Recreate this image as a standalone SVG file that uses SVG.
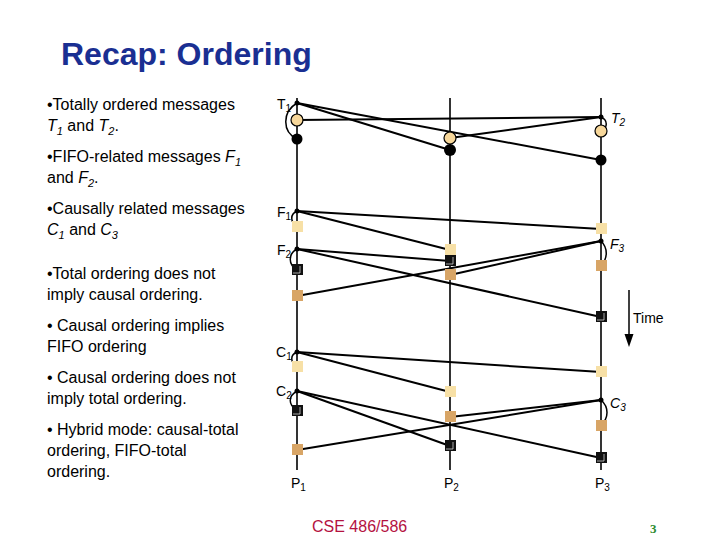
<svg xmlns="http://www.w3.org/2000/svg" width="720" height="540" viewBox="0 0 720 540">
<style>
.t{font-family:"Liberation Sans",Arial,sans-serif;font-size:16px;fill:#000}
.lab{font-family:"Liberation Sans",Arial,sans-serif;font-size:14px;fill:#000}
.it{font-style:italic}
.proc{stroke:#000;stroke-width:1.6;fill:none}
.msg{stroke:#000;stroke-width:2;fill:none}
.arc{stroke:#000;stroke-width:1.5;fill:none}
.lt{fill:#f7e0a6}
.tn{fill:#d8a566}
.bk{fill:#111}
.inner{fill:none;stroke:#fff;stroke-width:0.8;opacity:0.8}
</style>
<rect width="720" height="540" fill="#fff"/>
<g id="title"><text x="61" y="65" font-family="Liberation Sans,Arial,sans-serif" font-size="32" font-weight="bold" fill="#1a2f92">Recap: Ordering</text></g>
<g id="bullets">
<text class="t" x="47" y="110">•Totally ordered messages</text>
<text class="t" x="47" y="131"><tspan class="it">T</tspan><tspan class="it" font-size="11" dy="4">1</tspan><tspan dy="-4"> and </tspan><tspan class="it">T</tspan><tspan class="it" font-size="11" dy="4">2</tspan><tspan dy="-4">.</tspan></text>
<text class="t" x="47" y="162">•FIFO-related messages <tspan class="it">F</tspan><tspan class="it" font-size="11" dy="4">1</tspan></text>
<text class="t" x="47" y="183">and <tspan class="it">F</tspan><tspan class="it" font-size="11" dy="4">2</tspan><tspan dy="-4">.</tspan></text>
<text class="t" x="47" y="214">•Causally related messages</text>
<text class="t" x="47" y="235"><tspan class="it">C</tspan><tspan class="it" font-size="11" dy="4">1</tspan><tspan dy="-4"> and </tspan><tspan class="it">C</tspan><tspan class="it" font-size="11" dy="4">3</tspan></text>
<text class="t" x="47" y="279">•Total ordering does not</text>
<text class="t" x="47" y="300">imply causal ordering.</text>
<text class="t" x="47" y="331">• Causal ordering implies</text>
<text class="t" x="47" y="352">FIFO ordering</text>
<text class="t" x="47" y="383">• Causal ordering does not</text>
<text class="t" x="47" y="404">imply total ordering.</text>
<text class="t" x="47" y="435">• Hybrid mode: causal-total</text>
<text class="t" x="47" y="456">ordering, FIFO-total</text>
<text class="t" x="47" y="477">ordering.</text>
</g>
<g id="processes">
<line class="proc" x1="297" y1="98" x2="297" y2="470"/>
<line class="proc" x1="450" y1="98" x2="450" y2="470"/>
<line class="proc" x1="601" y1="98" x2="601" y2="470"/>
<text class="lab" x="291" y="488">P<tspan font-size="10" dy="3">1</tspan></text>
<text class="lab" x="444" y="488">P<tspan font-size="10" dy="3">2</tspan></text>
<text class="lab" x="595" y="488">P<tspan font-size="10" dy="3">3</tspan></text>
</g>
<g id="connectors">
<line class="msg" x1="297" y1="103" x2="450" y2="150"/>
<line class="msg" x1="297" y1="103" x2="601" y2="160"/>
<line class="msg" x1="601" y1="117" x2="297" y2="120"/>
<line class="msg" x1="601" y1="117" x2="450" y2="138"/>
<path class="arc" d="M297,103 C282,112 282,132 297,139"/>
<path class="arc" d="M601,117 C608,120 608,128 601,131"/>
<line class="msg" x1="297" y1="211" x2="601" y2="229"/>
<line class="msg" x1="297" y1="211" x2="450" y2="250"/>
<line class="msg" x1="297" y1="249" x2="450" y2="261"/>
<line class="msg" x1="297" y1="249" x2="601" y2="317"/>
<line class="msg" x1="601" y1="241" x2="450" y2="275"/>
<line class="msg" x1="601" y1="241" x2="297" y2="296"/>
<path class="arc" d="M297,211 C290,214 290,222 297,226"/>
<path class="arc" d="M297,249 C288,254 288,264 297,270"/>
<path class="arc" d="M601,241 C608,248 608,258 601,266"/>
<line class="msg" x1="297" y1="352" x2="601" y2="372"/>
<line class="msg" x1="297" y1="352" x2="450" y2="392"/>
<line class="msg" x1="297" y1="391" x2="450" y2="446"/>
<line class="msg" x1="297" y1="391" x2="601" y2="458"/>
<line class="msg" x1="601" y1="400" x2="450" y2="417"/>
<line class="msg" x1="601" y1="400" x2="297" y2="450"/>
<path class="arc" d="M297,352 C290,355 290,362 297,366"/>
<path class="arc" d="M297,391 C288,396 288,405 297,410"/>
<path class="arc" d="M601,400 C609,407 609,418 601,425"/>
<line x1="629" y1="290" x2="629" y2="336" stroke="#000" stroke-width="1.5"/>
<polygon points="624.5,334 633.5,334 629,347" fill="#000"/>
</g>
<g id="sends">
<circle cx="297" cy="103" r="2.5"/><circle cx="601" cy="117" r="2.5"/>
<circle cx="297" cy="211" r="2.5"/><circle cx="297" cy="249" r="2.5"/><circle cx="601" cy="241" r="2.5"/>
<circle cx="297" cy="352" r="2.5"/><circle cx="297" cy="391" r="2.5"/><circle cx="601" cy="400" r="2.5"/>
</g>
<g id="send-labels">
<text class="lab" x="277" y="109">T<tspan font-size="10" dy="3">1</tspan></text>
<text class="lab it" x="611" y="123">T<tspan font-size="10" dy="3">2</tspan></text>
<text class="lab" x="277" y="217">F<tspan font-size="10" dy="3">1</tspan></text>
<text class="lab" x="277" y="255">F<tspan font-size="10" dy="3">2</tspan></text>
<text class="lab it" x="610" y="249">F<tspan font-size="10" dy="3">3</tspan></text>
<text class="lab" x="276" y="357">C<tspan font-size="10" dy="3">1</tspan></text>
<text class="lab" x="276" y="396">C<tspan font-size="10" dy="3">2</tspan></text>
<text class="lab it" x="610" y="408">C<tspan font-size="10" dy="3">3</tspan></text>
<text class="lab" x="633" y="323">Time</text>
</g>
<g id="deliveries-T">
<circle cx="297" cy="120" r="6" fill="#f7d79a" stroke="#000" stroke-width="1.2"/>
<circle cx="297" cy="139" r="5.5" fill="#000"/>
<circle cx="450" cy="138" r="6" fill="#f7d79a" stroke="#000" stroke-width="1.2"/>
<circle cx="450" cy="150" r="6" fill="#000"/>
<circle cx="601" cy="131" r="6" fill="#f7d79a" stroke="#000" stroke-width="1.2"/>
<circle cx="601" cy="160" r="5.5" fill="#000"/>
</g>
<g id="deliveries-F">
<rect class="lt" x="292" y="221" width="11" height="11"/>
<rect class="bk" x="292" y="264" width="11" height="11"/><path class="inner" d="M300,266 V273 H293"/>
<rect class="tn" x="292" y="290" width="11" height="11"/>
<rect class="lt" x="445" y="244" width="11" height="11"/>
<rect class="bk" x="445" y="255" width="11" height="11"/><path class="inner" d="M453,257 V264 H446"/>
<rect class="tn" x="445" y="269" width="11" height="11"/>
<rect class="lt" x="596" y="223" width="11" height="11"/>
<rect class="tn" x="596" y="260" width="11" height="11"/>
<rect class="bk" x="596" y="311" width="11" height="11"/><path class="inner" d="M604,313 V320 H597"/>
</g>
<g id="deliveries-C">
<rect class="lt" x="292" y="361" width="11" height="11"/>
<rect class="bk" x="292" y="405" width="11" height="11"/><path class="inner" d="M300,407 V414 H293"/>
<rect class="tn" x="292" y="444" width="11" height="11"/>
<rect class="lt" x="445" y="386" width="11" height="11"/>
<rect class="tn" x="445" y="411" width="11" height="11"/>
<rect class="bk" x="445" y="440" width="11" height="11"/><path class="inner" d="M453,442 V449 H446"/>
<rect class="lt" x="596" y="366" width="11" height="11"/>
<rect class="tn" x="596" y="420" width="11" height="11"/>
<rect class="bk" x="596" y="452" width="11" height="11"/><path class="inner" d="M604,454 V461 H597"/>
</g>
<g id="footer">
<text x="312" y="532" font-family="Liberation Sans,Arial,sans-serif" font-size="16" fill="#b4123f">CSE 486/586</text>
<text x="650" y="533" font-family="Liberation Serif,serif" font-size="13" font-weight="bold" fill="#2e8b2e">3</text>
</g>
</svg>
